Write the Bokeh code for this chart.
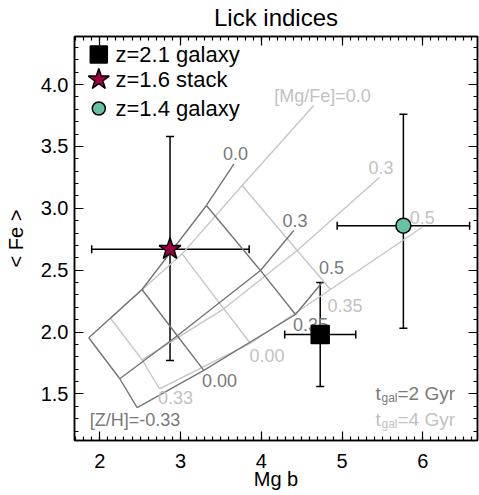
import numpy as np
from bokeh.plotting import figure
from bokeh.models import (ColumnDataSource, Whisker, TeeHead, LinearAxis, Range1d,
                          FixedTicker, PrintfTickFormatter, CustomJSTickFormatter)
from bokeh.core.properties import value
from bokeh.embed import file_html
from bokeh.resources import INLINE

FONT = "Liberation Sans"

# ---------------- data ----------------
obj_labels = ["z=2.1 galaxy", "z=1.6 stack", "z=1.4 galaxy"]
obj_markers = ["square", "star", "circle"]
obj_colors = ["#000000", "#9E0142", "#66C2A5"]
mgb = [4.73, 2.87, 5.76]
mgb_lo = [4.29, 1.90, 4.94]
mgb_hi = [5.17, 3.85, 6.58]
fe = [1.98, 2.67, 2.86]
fe_lo = [1.56, 1.77, 2.03]
fe_hi = [2.40, 3.58, 3.76]

# model grids: rows [Mg/Fe] = 0.0, 0.3, 0.5 ; columns [Z/H] = -0.33, 0.00, 0.35, track end
t2_mgb = [[1.864, 2.523, 3.321, 3.662],
          [2.248, 2.960, 3.990, 4.402],
          [2.463, 3.288, 4.424, 4.754]]
t2_fe = [[1.954, 2.344, 3.023, 3.359],
         [1.623, 1.970, 2.498, 2.821],
         [1.389, 1.690, 2.142, 2.400]]
t4_mgb = [[2.133, 3.020, 3.763, 4.650],
          [2.525, 3.536, 4.445, 5.467],
          [2.739, 3.866, 4.857, 5.993]]
t4_fe = [[2.112, 2.632, 3.184, 3.830],
         [1.776, 2.188, 2.659, 3.251],
         [1.542, 1.910, 2.344, 2.847]]

x_ticks = [2, 3, 4, 5, 6]
y_ticks = [1.5, 2.0, 2.5, 3.0, 3.5, 4.0]

# ---------------- layout ----------------
X0, X1 = 1.687, 6.678
Y0, Y1 = 1.124, 4.388
FL, FT, FW, FH = 74, 36, 403, 404   # frame position in the picture (px)

def dx(px):
    return X0 + (px - FL) * (X1 - X0) / FW

def dy(py):
    return Y1 - (py - FT) * (Y1 - Y0) / FH

DARK = "#757575"
LIGHT = "#c6c6c6"
DARK_T = "#7a7a7a"
LIGHT_T = "#c2c2c2"

p = figure(frame_width=FW, frame_height=FH, x_range=Range1d(X0, X1), y_range=Range1d(Y0, Y1),
           output_backend="svg", toolbar_location=None, title="Lick indices",
           min_border_left=74, min_border_top=36, min_border_right=2, min_border_bottom=40,
           background_fill_color="white", border_fill_color="white")
p.title.text_font = FONT
p.title.text_font_size = "24px"
p.title.text_font_style = "normal"
p.title.text_color = "black"
p.title.align = "center"
p.title.vertical_align = "top"
p.title.standoff = 7
p.xgrid.grid_line_color = None
p.ygrid.grid_line_color = None
p.outline_line_color = "black"
p.outline_line_width = 1.5

x_minor = list(np.round(np.arange(1.7, 6.7, 0.1), 2))
y_minor = list(np.round(np.arange(1.2, 4.4, 0.1), 2))


def style_axis(ax, ticks, minor):
    ax.ticker = FixedTicker(ticks=ticks, minor_ticks=minor)
    ax.axis_line_color = "black"
    ax.axis_line_width = 1.5
    ax.major_tick_in = 9
    ax.major_tick_out = 0
    ax.minor_tick_in = 4
    ax.minor_tick_out = 0
    ax.major_tick_line_color = "black"
    ax.minor_tick_line_color = "black"
    ax.major_tick_line_width = 1.2
    ax.minor_tick_line_width = 1.2
    ax.major_label_text_font = FONT
    ax.major_label_text_font_size = "20px"
    ax.major_label_text_color = "black"
    ax.axis_label_text_font = FONT
    ax.axis_label_text_font_size = "20px"
    ax.axis_label_text_font_style = "normal"
    ax.axis_label_text_color = "black"


style_axis(p.xaxis[0], x_ticks, x_minor)
style_axis(p.yaxis[0], y_ticks, y_minor)
p.xaxis[0].formatter = PrintfTickFormatter(format="%d")
p.yaxis[0].formatter = PrintfTickFormatter(format="%.1f")
p.xaxis[0].axis_label = "Mg b"
p.yaxis[0].axis_label = "< Fe >"
p.xaxis[0].major_label_standoff = 13
p.xaxis[0].axis_label_standoff = -3
p.yaxis[0].major_label_standoff = 6
p.yaxis[0].axis_label_standoff = 11

for side, ticks, minor in (("above", x_ticks, x_minor), ("right", y_ticks, y_minor)):
    ax = LinearAxis()
    style_axis(ax, ticks, minor)
    ax.formatter = CustomJSTickFormatter(code="return ''")
    ax.major_label_text_font_size = "0px"
    ax.major_label_standoff = 0
    p.add_layout(ax, side)

# ---------------- model grids ----------------
def draw_grid(gx, gy, color):
    p.multi_line(xs=[list(r) for r in gx], ys=[list(r) for r in gy],
                 line_color=color, line_width=1.4)
    p.multi_line(xs=[[gx[r][c] for r in range(3)] for c in range(3)],
                 ys=[[gy[r][c] for r in range(3)] for c in range(3)],
                 line_color=color, line_width=1.4)

draw_grid(t4_mgb, t4_fe, LIGHT)
draw_grid(t2_mgb, t2_fe, DARK)

# grid labels (picture px centres)
grid_texts = ["0.0", "0.3", "0.5", "0.35", "0.00",
              "[Mg/Fe]=0.0", "0.3", "0.5", "0.35", "0.00", "0.33"]
grid_px = [(235, 153), (294.5, 220), (331, 267), (310, 324), (219, 380),
           (322, 95), (380.5, 167), (421.7, 217), (344.5, 305), (266.5, 355), (175, 397)]
grid_cols = [DARK_T] * 5 + [LIGHT_T] * 6
gl = ColumnDataSource(dict(x=[dx(a) for a, b in grid_px], y=[dy(b) for a, b in grid_px],
                           t=grid_texts, c=grid_cols))
p.text("x", "y", text="t", text_color="c", source=gl, text_font=value(FONT),
       text_font_size="18px", text_align="center", text_baseline="middle")
p.text(x=[dx(89.3)], y=[dy(419)], text=["[Z/H]=-0.33"], text_color=DARK_T,
       text_font=value(FONT), text_font_size="18px", text_align="left", text_baseline="middle")

# age labels
for (main, col, base) in (("=2 Gyr", DARK_T, 392.7), ("=4 Gyr", LIGHT_T, 419.3)):
    p.text(x=[dx(375)], y=[dy(base)], text=["t"], text_color=col, text_font=value(FONT),
           text_font_size="19px", text_align="left", text_baseline="alphabetic")
    p.text(x=[dx(381)], y=[dy(base + 4.5)], text=["gal"], text_color=col, text_font=value(FONT),
           text_font_size="12px", text_align="left", text_baseline="alphabetic")
    p.text(x=[dx(397)], y=[dy(base)], text=[main], text_color=col, text_font=value(FONT),
           text_font_size="19px", text_align="left", text_baseline="alphabetic")

# ---------------- observations ----------------
src = ColumnDataSource(dict(mgb=mgb, mgb_lo=mgb_lo, mgb_hi=mgb_hi, fe=fe, fe_lo=fe_lo,
                            fe_hi=fe_hi, marker=obj_markers, color=obj_colors,
                            size=[18, 23, 15]))
for dim, base, lo, hi in (("height", "mgb", "fe_lo", "fe_hi"), ("width", "fe", "mgb_lo", "mgb_hi")):
    w = Whisker(source=src, base=base, lower=lo, upper=hi, dimension=dim,
                line_color="black", line_width=1.5, level="underlay",
                upper_head=TeeHead(size=8, line_color="black", line_width=1.5),
                lower_head=TeeHead(size=8, line_color="black", line_width=1.5))
    p.add_layout(w)
p.scatter("mgb", "fe", marker="marker", size="size", fill_color="color",
          line_color="black", line_width=1.5, source=src)

# legend (drawn manually)
leg = ColumnDataSource(dict(x=[dx(98.3)] * 3, y=[dy(54), dy(79), dy(108)],
                            tx=[dx(115)] * 3, marker=obj_markers, color=obj_colors,
                            size=[17, 22, 13], label=obj_labels))
p.scatter("x", "y", marker="marker", size="size", fill_color="color",
          line_color="black", line_width=1.5, source=leg)
p.text("tx", "y", text="label", source=leg, text_font=value(FONT), text_font_size="22px",
       text_align="left", text_baseline="middle", text_color="black")

open("out.html", "w").write(file_html(p, INLINE))
